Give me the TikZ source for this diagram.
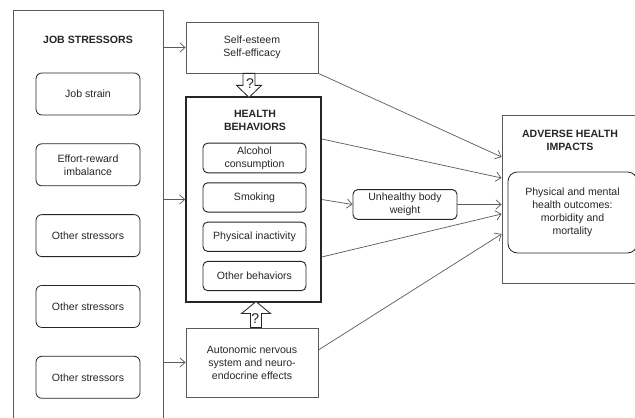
\documentclass[tikz,border=0pt]{standalone}
\usepackage{fontspec}
\setmainfont{Liberation Sans}
\usetikzlibrary{arrows.meta, positioning, calc}
\definecolor{linegray}{HTML}{5A5A5A}
\definecolor{txtgray}{HTML}{262626}
\tikzstyle{frame} = [rectangle, draw=linegray, line width=0.7pt]
\tikzstyle{plainbox} = [rectangle, draw=linegray, line width=0.7pt, text=txtgray, align=center, node font=\fontsize{9}{11}\selectfont]
\tikzstyle{stressor} = [rectangle, rounded corners=5pt, draw=txtgray, line width=0.7pt, minimum width=3.12cm, minimum height=1.26cm, text=txtgray, align=center, node font=\fontsize{9}{11}\selectfont]
\tikzstyle{behavior} = [rectangle, rounded corners=4pt, draw=txtgray, line width=0.8pt, minimum width=3.09cm, minimum height=0.88cm, text=txtgray, align=center, node font=\fontsize{9}{11}\selectfont]
\tikzstyle{heading} = [text=txtgray, align=center, node font=\fontsize{9}{11}\selectfont\bfseries]
\tikzstyle{qmark} = [text=txtgray, inner sep=0pt, node font=\fontsize{12}{14}\selectfont]
\tikzstyle{arrow} = [line width=0.6pt, draw=linegray, -{Straight Barb[length=4.5pt,width=8pt]}]
\tikzstyle{fatarrow} = [line width=0.7pt, draw=txtgray, fill=white]

\begin{document}
\begin{tikzpicture}[]
    \clip (0,0) rectangle (19.05,12.54);
    \fill[white] (0,0) rectangle (19.05,12.54);

    % job stressors column
    \node[frame, minimum width=4.5cm, minimum height=12.84cm] (jsbox) at (2.64,5.82) {};
    \node[heading] (jstitle) at (2.64,11.34) {JOB STRESSORS};
    \node[stressor] (jobstrain) at (2.64,9.72) {Job strain};
    \node[stressor, below=0.84cm of jobstrain] (effort) {Effort-reward\\imbalance};
    \node[stressor, below=0.84cm of effort] (otherA) {Other stressors};
    \node[stressor, below=0.84cm of otherA] (otherB) {Other stressors};
    \node[stressor, below=0.84cm of otherB] (otherC) {Other stressors};

    % mediators
    \node[plainbox, minimum width=3.96cm, minimum height=1.53cm] (selfest) at (7.56,11.115) {Self-esteem\\Self-efficacy};
    \node[frame, line width=1.3pt, draw=txtgray, minimum width=4.05cm, minimum height=6.15cm] (hb) at (7.605,6.555) {};
    \node[heading] (hbtitle) at (7.65,8.94) {HEALTH\\BEHAVIORS};
    \node[behavior] (alcohol) at (7.635,7.8) {Alcohol\\consumption};
    \node[behavior, below=0.27cm of alcohol] (smoking) {Smoking};
    \node[behavior, below=0.27cm of smoking] (inactivity) {Physical inactivity};
    \node[behavior, below=0.27cm of inactivity] (otherbeh) {Other behaviors};
    \node[plainbox, minimum width=3.96cm, minimum height=2.07cm] (autonomic) at (7.56,1.665) {Autonomic nervous\\system and neuro-\\endocrine effects};
    \node[behavior, minimum width=3.12cm, minimum height=0.87cm] (weight) at (12.15,6.405) {Unhealthy body\\weight};

    % outcomes
    \node[frame, minimum width=4.29cm, minimum height=5.04cm] (adverse) at (17.205,6.57) {};
    \node[heading] (advtitle) at (17.1,8.34) {ADVERSE HEALTH\\IMPACTS};
    \node[stressor, rounded corners=8pt, minimum width=3.87cm, minimum height=2.43cm] (outcomes) at (17.175,6.165) {Physical and mental\\health outcomes:\\morbidity and\\mortality};

    \draw[arrow] (selfest.west -| jsbox.east) -- (selfest.west);
    \draw[arrow] (hb.west -| jsbox.east) -- (hb.west);
    \draw[arrow] (autonomic.west -| jsbox.east) -- (autonomic.west);

    % block arrows with question marks
    \draw[fatarrow] ($(selfest.south)+(-0.27,0)$) -- ++(0,-0.36) -- ++(-0.195,0) -- ++(0.375,-0.36) -- ++(0.375,0.36) -- ++(-0.195,0) -- ++(0,0.36) -- cycle;
    \node[qmark] (qdown) at (7.5,10.03) {?};
    \draw[fatarrow] ($(autonomic.north)+(-0.045,0)$) -- ++(0,0.42) -- ++(-0.27,0) -- ++(0.435,0.36) -- ++(0.435,-0.36) -- ++(-0.27,0) -- ++(0,-0.42) -- cycle;
    \node[qmark] (qup) at (7.66,2.97) {?};

    \draw[arrow] (selfest.south east) -- ($(adverse.west)+(0,1.26)$);
    \draw[arrow] ($(hb.east)+(0,1.815)$) -- ($(adverse.west)+(0,0.63)$);
    \draw[arrow] (hb.east) -- (weight.west);
    \draw[arrow] (weight.east) -- (weight.east -| adverse.west);
    \draw[arrow] ($(hb.east)+(0,-1.725)$) -- ($(adverse.west)+(0,-0.45)$);
    \draw[arrow] ($(autonomic.east)+(0,0.375)$) -- ($(adverse.west)+(0,-1.05)$);
\end{tikzpicture}
\end{document}
